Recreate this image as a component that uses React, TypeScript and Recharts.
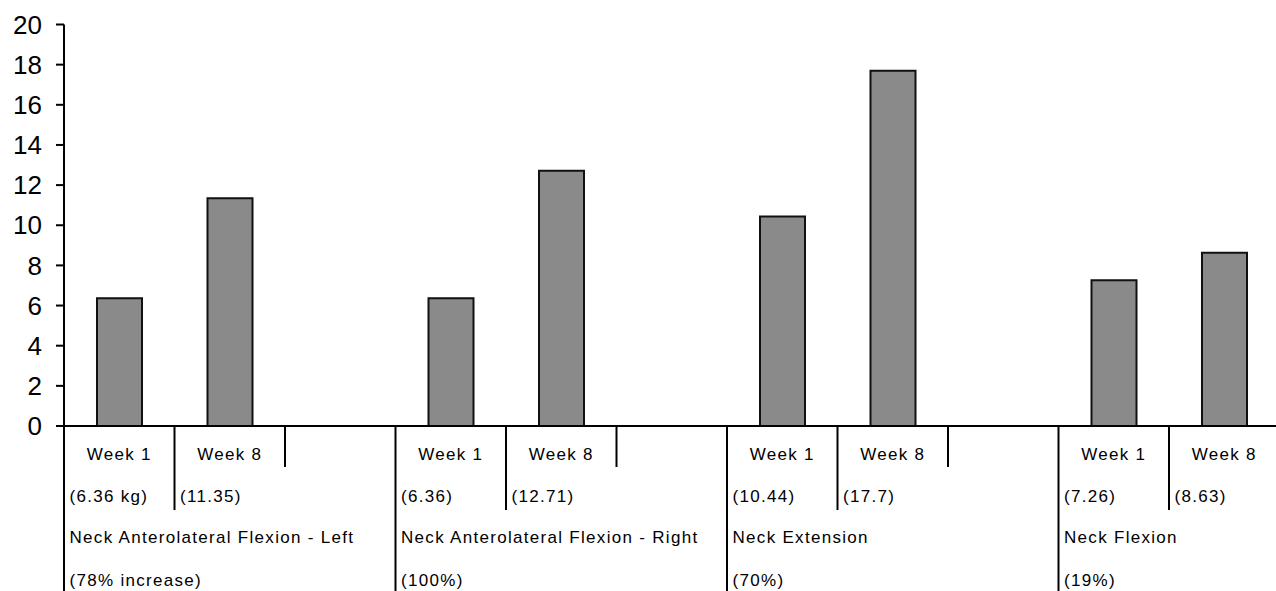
import React from 'react';
import { BarChart, Bar, XAxis, YAxis } from 'recharts';

// Slot layout: each exercise has Week 1, Week 8 and an empty spacer slot.
const slotLabels = ['Week 1', 'Week 8', '', 'Week 1', 'Week 8', '', 'Week 1', 'Week 8', '', 'Week 1', 'Week 8'];
const strengthKg: (number | null)[] = [6.36, 11.35, null, 6.36, 12.71, null, 10.44, 17.7, null, 7.26, 8.63];
const valueLabels = ['(6.36 kg)', '(11.35)', '', '(6.36)', '(12.71)', '', '(10.44)', '(17.7)', '', '(7.26)', '(8.63)'];
const groupNames = [
  'Neck Anterolateral Flexion - Left',
  'Neck Anterolateral Flexion - Right',
  'Neck Extension',
  'Neck Flexion',
];
const groupChanges = ['(78% increase)', '(100%)', '(70%)', '(19%)'];
const yTicks = [0, 2, 4, 6, 8, 10, 12, 14, 16, 18, 20];

const data = slotLabels.map((label, i) => ({ id: `slot-${i}`, label, value: strengthKg[i] }));

const CHART_W = 1290;
const CHART_H = 591;
const MARGIN = { top: 24.5, right: 10.5, bottom: 0, left: 0 };
const Y_AXIS_W = 64;
const X_AXIS_H = 165;
const AXIS_Y = CHART_H - MARGIN.bottom - X_AXIS_H;
const SLOT_W = (CHART_W - MARGIN.left - MARGIN.right - Y_AXIS_W) / slotLabels.length;

const FONT = '"Liberation Sans", Arial, sans-serif';
const labelStyle = { fontFamily: FONT, fontSize: 17, letterSpacing: 1.3, fill: '#000' };

const CategoryTick = (props: any) => {
  const { x, payload } = props;
  const i: number = payload?.index ?? props.index ?? 0;
  const left = x - SLOT_W / 2;
  const kind = i % 3;
  const lineBottom = kind === 0 ? CHART_H : kind === 1 ? 510 : 467;
  const g = Math.floor(i / 3);
  return (
    <g>
      <line x1={left} x2={left} y1={AXIS_Y} y2={lineBottom} stroke="#000" strokeWidth={2} />
      {slotLabels[i] && (
        <text x={x} y={460} textAnchor="middle" style={labelStyle}>
          {slotLabels[i]}
        </text>
      )}
      {valueLabels[i] && (
        <text x={left + 5.5} y={502} textAnchor="start" style={labelStyle}>
          {valueLabels[i]}
        </text>
      )}
      {kind === 0 && (
        <>
          <text x={left + 5.5} y={543} textAnchor="start" style={labelStyle}>
            {groupNames[g]}
          </text>
          <text x={left + 5.5} y={586} textAnchor="start" style={labelStyle}>
            {groupChanges[g]}
          </text>
        </>
      )}
    </g>
  );
};

export default function App() {
  return (
    <div
      style={{
        position: 'absolute',
        left: 0,
        top: 0,
        width: 1276,
        height: 591,
        overflow: 'hidden',
        background: '#fff',
      }}
    >
      <BarChart width={CHART_W} height={CHART_H} data={data} margin={MARGIN}>
        <YAxis
          width={Y_AXIS_W}
          domain={[0, 20]}
          ticks={yTicks}
          interval={0}
          axisLine={{ stroke: '#000', strokeWidth: 2 }}
          tickLine={{ stroke: '#000', strokeWidth: 2 }}
          tickSize={8}
          tickMargin={14}
          tick={{ fontFamily: FONT, fontSize: 26, fill: '#000' }}
        />
        <XAxis
          dataKey="id"
          height={X_AXIS_H}
          interval={0}
          axisLine={{ stroke: '#000', strokeWidth: 2 }}
          tickLine={false}
          tick={<CategoryTick />}
        />
        <Bar
          dataKey="value"
          barSize={45}
          fill="#8a8a8a"
          stroke="#111"
          strokeWidth={2}
          isAnimationActive={false}
        />
      </BarChart>
    </div>
  );
}
